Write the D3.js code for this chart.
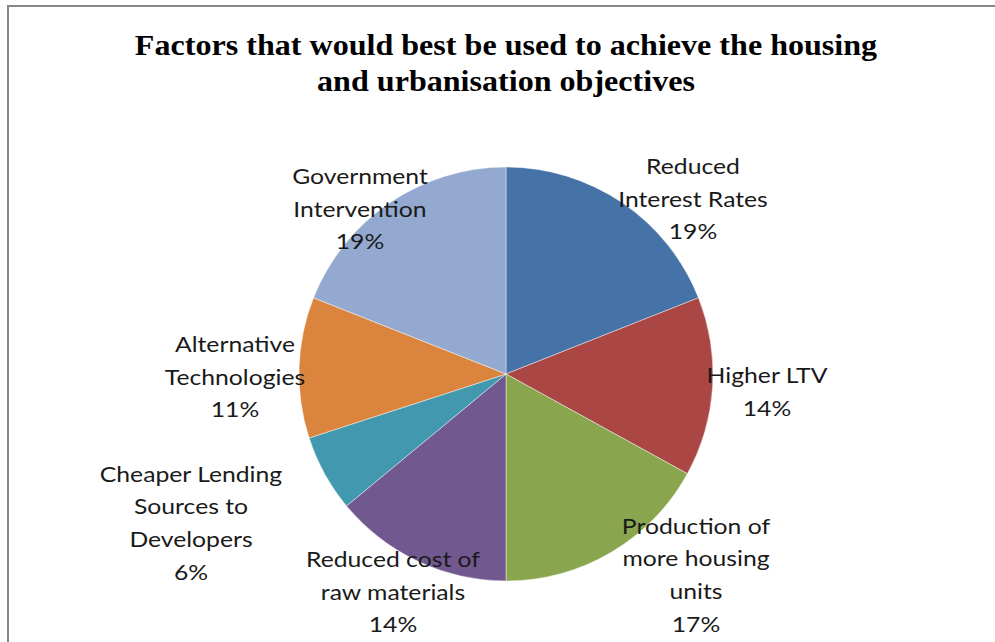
<!DOCTYPE html>
<html>
<head>
<meta charset="utf-8">
<script src="https://cdn.jsdelivr.net/npm/d3@7/dist/d3.min.js"></script>
<style>
  html, body { margin: 0; padding: 0; background: #fff; }
  svg { display: block; }
</style>
</head>
<body>
<svg id="chart" width="995" height="642"></svg>
<script>
// Survey categories (clockwise from 12 o'clock) and their shares in percent
const categories = [
  "Reduced Interest Rates",
  "Higher LTV",
  "Production of more housing units",
  "Reduced cost of raw materials",
  "Cheaper Lending Sources to Developers",
  "Alternative Technologies",
  "Government Intervention"
];
const shares = [19, 14, 17, 14, 6, 11, 19];

// Wrapped label lines for each category
const labelLines = [
  ["Reduced", "Interest Rates"],
  ["Higher LTV"],
  ["Production of", "more housing", "units"],
  ["Reduced cost of", "raw materials"],
  ["Cheaper Lending", "Sources to", "Developers"],
  ["Alternative", "Technologies"],
  ["Government", "Intervention"]
];

const titleLines = [
  "Factors that would best be used to achieve the housing",
  "and urbanisation objectives"
];

const palette = ["#4572A7", "#AA4643", "#89A54E", "#71588F", "#4198AF", "#DB843D", "#93A9CF"];

// Layout
const cx = 506, cy = 374, radius = 207;
const lineH = 32.6;
const labelStretch = 1.15;   // labels are set in a wide face
const titleStretch = 1.07;
// Label block centres relative to the pie centre (best-fit placement)
const labelOffsets = [
  [187, -175], [261, 18], [190, 201], [-113, 218], [-315, 149], [-271, 3], [-146, -165]
];

const svg = d3.select("#chart");

// Chart frame
svg.append("rect")
  .attr("x", 8).attr("y", 6)
  .attr("width", 1100).attr("height", 800)
  .attr("fill", "none")
  .attr("stroke", "#878787")
  .attr("stroke-width", 2);

// Title
svg.append("g")
  .attr("transform", `translate(506,0) scale(${titleStretch},1)`)
  .append("text")
  .attr("text-anchor", "middle")
  .attr("font-family", "'Liberation Serif', 'Times New Roman', serif")
  .attr("font-weight", "bold")
  .attr("font-size", 30)
  .attr("fill", "#000")
  .selectAll("tspan")
  .data(titleLines)
  .join("tspan")
  .attr("x", 0)
  .attr("y", (d, i) => 55 + i * 36.5)
  .text(d => d);

const data = categories.map((c, i) => ({ name: c, value: shares[i], lines: labelLines[i], color: palette[i] }));

const pie = d3.pie().sort(null).value(d => d.value);
const arc = d3.arc().innerRadius(0).outerRadius(radius);
const arcs = pie(data);

const g = svg.append("g").attr("transform", `translate(${cx},${cy})`);

g.selectAll("path.slice")
  .data(arcs)
  .join("path")
  .attr("class", "slice")
  .attr("d", arc)
  .attr("fill", d => d.data.color)
  .attr("stroke", "rgba(255,255,255,0.55)")
  .attr("stroke-width", 0.8);

// Data labels: category name lines followed by the percentage
const labels = g.selectAll("g.label")
  .data(arcs)
  .join("g")
  .attr("class", "label")
  .attr("transform", (d, i) => `translate(${labelOffsets[i][0]},${labelOffsets[i][1]}) scale(${labelStretch},1)`)
  .append("text")
  .attr("text-anchor", "middle")
  .attr("font-family", "Lato, 'Open Sans', sans-serif")
  .attr("font-size", 21.5)
  .attr("fill", "#1a1a1a");

labels.each(function (d) {
  const lines = d.data.lines.concat([d3.format(".0f")(d.data.value) + "%"]);
  const top = -(lines.length - 1) * lineH / 2;
  d3.select(this).selectAll("tspan")
    .data(lines)
    .join("tspan")
    .attr("x", 0)
    .attr("y", (l, j) => top + j * lineH)
    .attr("dy", "0.36em")
    .text(l => l);
});
</script>
</body>
</html>
